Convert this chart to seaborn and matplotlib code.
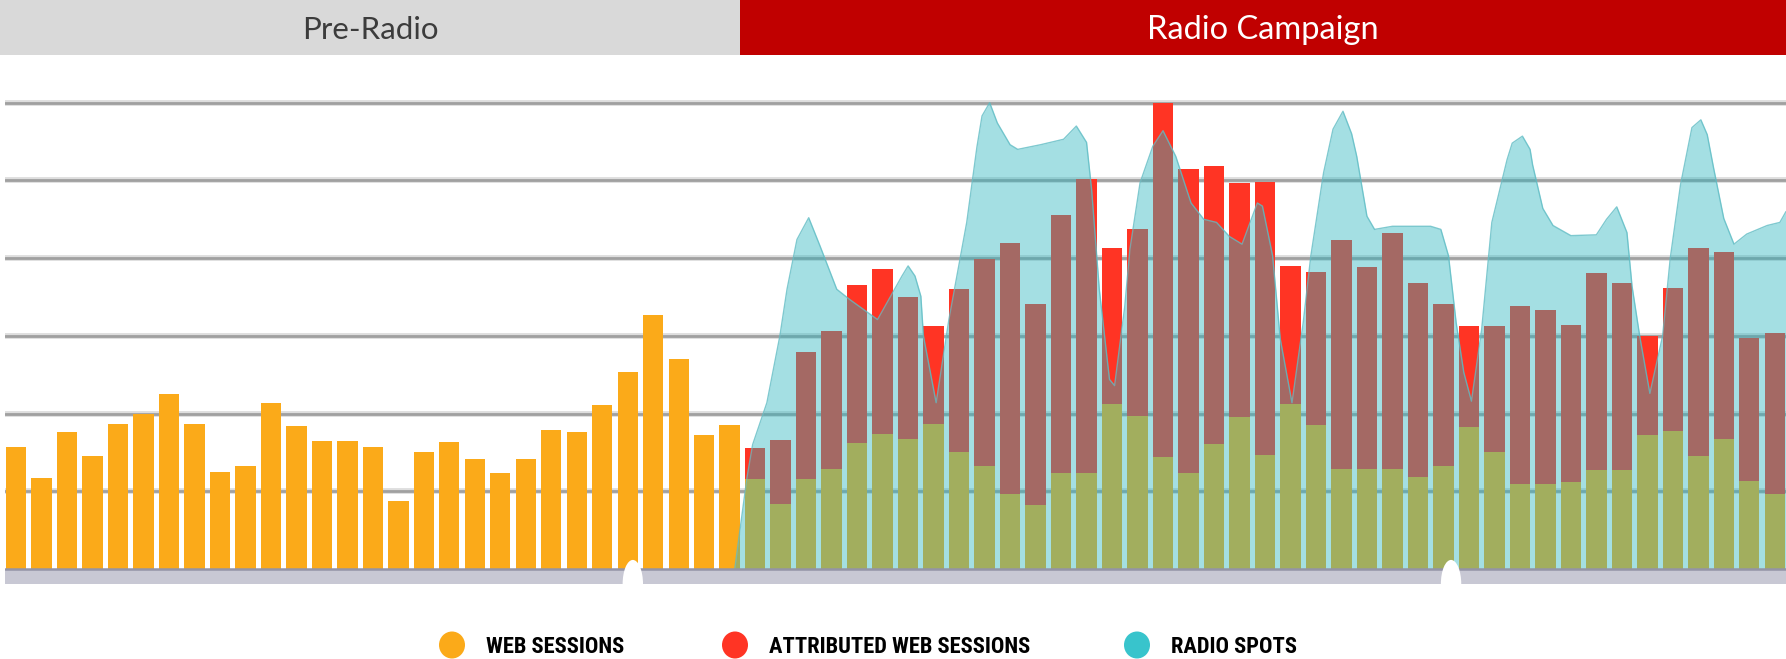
import numpy as np
import pandas as pd
import matplotlib
matplotlib.use("Agg")
import matplotlib.pyplot as plt
import seaborn as sns
from matplotlib.patches import Ellipse
from matplotlib import font_manager

# ---------------- data ----------------
pre_web = [1.57, 1.17, 1.76, 1.46, 1.87, 2.00, 2.25, 1.87, 1.25, 1.32,
           2.14, 1.84, 1.65, 1.65, 1.57, 0.88, 1.50, 1.63, 1.41, 1.23,
           1.41, 1.79, 1.76, 2.11, 2.53, 3.27, 2.70, 1.72, 1.85]

radio_web = [1.16, 0.84, 1.16, 1.29, 1.62, 1.74, 1.67, 1.86, 1.51, 1.33,
             0.97, 0.82, 1.24, 1.24, 2.12, 1.97, 1.44, 1.24, 1.61, 1.95,
             1.47, 2.12, 1.85, 1.29, 1.29, 1.29, 1.18, 1.33, 1.83, 1.51,
             1.10, 1.09, 1.12, 1.28, 1.28, 1.72, 1.78, 1.45, 1.67, 1.13,
             0.96]

radio_total = [1.56, 1.66, 2.79, 3.06, 3.66, 3.86, 3.50, 3.13, 3.60, 3.99,
               4.19, 3.41, 4.56, 5.02, 4.13, 4.38, 6.00, 5.15, 5.19, 4.97,
               4.98, 3.90, 3.82, 4.24, 3.89, 4.33, 3.68, 3.41, 3.13, 3.13,
               3.38, 3.33, 3.14, 3.81, 3.68, 3.00, 3.62, 4.13, 4.08, 2.97,
               3.04]

spots_x = [28.2, 28.68, 28.9, 29.46, 29.97, 30.25, 30.64, 31.1, 31.54, 31.8,
           32.2, 32.7, 33.8, 34.76, 35.0, 35.27, 35.5, 35.6, 36.1, 36.6,
           37.3, 37.7, 37.9, 38.2, 38.5, 39.0, 39.3, 40.2, 41.1, 41.6,
           42.0, 42.2, 42.5, 42.9, 43.1, 43.5, 43.7, 44.1, 44.6, 45.0,
           45.5, 46.1, 46.6, 47.1, 47.6, 48.1, 48.7, 48.9, 49.3, 49.6,
           50.06, 50.5, 50.8, 51.3, 51.67, 52.06, 52.4, 52.6, 53.0, 53.3,
           54.0, 54.7, 55.5, 55.9, 56.2, 56.5, 56.8, 57.1, 57.5, 57.9,
           58.5, 58.7, 59.1, 59.4, 59.5, 59.9, 60.3, 61.0, 62.0, 62.4,
           62.8, 63.2, 63.4, 63.7, 64.1, 64.6, 64.9, 65.3, 65.75, 66.1,
           66.35, 66.6, 67.0, 67.4, 67.9, 68.7, 69.2, 69.44]
spots_y = [0.00, 1.18, 1.60, 2.14, 3.00, 3.60, 4.24, 4.52, 4.16, 3.94,
           3.60, 3.47, 3.21, 3.77, 3.90, 3.77, 3.51, 3.00, 2.14, 3.21,
           4.46, 5.43, 5.83, 6.00, 5.74, 5.46, 5.40, 5.46, 5.53, 5.70,
           5.49, 4.88, 3.60, 2.44, 2.36, 3.38, 4.11, 4.97, 5.44, 5.64,
           5.31, 4.71, 4.50, 4.46, 4.28, 4.18, 4.71, 4.67, 4.03, 2.96,
           2.14, 3.17, 4.03, 5.10, 5.66, 5.89, 5.60, 5.31, 4.54, 4.37,
           4.41, 4.41, 4.41, 4.37, 4.03, 3.17, 2.53, 2.16, 3.08, 4.46,
           5.27, 5.48, 5.57, 5.40, 5.20, 4.64, 4.42, 4.29, 4.30, 4.50,
           4.66, 4.33, 3.64, 3.00, 2.26, 3.00, 4.00, 4.94, 5.68, 5.78,
           5.59, 5.16, 4.51, 4.18, 4.31, 4.42, 4.46, 4.60]

phase_labels = ["Pre-Radio", "Radio Campaign"]
campaign_start = 28.4
legend_labels = ["WEB SESSIONS", "ATTRIBUTED WEB SESSIONS", "RADIO SPOTS"]
grid_values = [1, 2, 3, 4, 5, 6]
slider_handles = [24.2, 56.3]

# ---------------- styling ----------------
ORANGE = "#FBAA19"
RED = "#FF3424"
CYAN = "#38C4CC"
CYAN_FILL = "#28B4BE"
HEADER_GRAY = "#D9D9D9"
HEADER_RED = "#C00000"

days = np.arange(len(pre_web) + len(radio_web))
df = pd.DataFrame({
    "day": days,
    "web": pre_web + radio_web,
    "total": pre_web + radio_total,
})

sns.set_theme(style="white")
plt.rcParams["font.family"] = ["Lato", "DejaVu Sans"]

# choose a condensed bold face for the legend if one is installed
names = {f.name for f in font_manager.fontManager.ttflist}
legend_family = "DejaVu Sans"
for cand in ["Liberation Sans Narrow", "Roboto Condensed", "Open Sans Condensed",
             "DejaVu Sans Condensed", "Roboto"]:
    if cand in names:
        legend_family = cand
        break
condensed_dejavu = any(f.name == "DejaVu Sans" and f.stretch == "condensed"
                       for f in font_manager.fontManager.ttflist)

W, H = 1786, 659
fig = plt.figure(figsize=(W / 100, H / 100), dpi=100)
fig.patch.set_facecolor("white")

XL, XR = -0.43, 69.44
YB, YT = -0.193, 6.55
ax = fig.add_axes([5 / W, (H - 584) / H, 1781 / W, (584 - 60) / H])

for g in grid_values:
    ax.axhline(g, color="#DEDEDE", lw=4.2, zorder=0.4)
    ax.axhline(g, color="#A0A0A0", lw=2.0, zorder=0.5)

sns.barplot(data=df, x="day", y="total", native_scale=True, width=0.8,
            color=RED, saturation=1, errorbar=None, ax=ax, zorder=2,
            linewidth=0)
sns.barplot(data=df, x="day", y="web", native_scale=True, width=0.8,
            color=ORANGE, saturation=1, errorbar=None, ax=ax, zorder=2.1,
            linewidth=0)

ax.fill_between(spots_x, 0, spots_y, color=CYAN_FILL, alpha=0.42, lw=0, zorder=3)
sns.lineplot(x=spots_x, y=spots_y, color="#5FBCC4", lw=1.0, alpha=0.8,
             sort=False, ax=ax, zorder=3.1)

ax.axhspan(YB, 0, color="#C8C8D4", lw=0, zorder=4)
ax.axhline(0, color="#9494A6", lw=1.8, zorder=4.1)
for s in slider_handles:
    ax.add_patch(Ellipse((s, YB), 0.8, 0.62, facecolor="white",
                         edgecolor="none", zorder=5))

ax.set_xlim(XL, XR)
ax.set_ylim(YB, YT)
ax.axis("off")

# ---------------- header ----------------
hax = fig.add_axes([0, (H - 55) / H, 1, 55 / H])
HL = XL - 5 * (XR - XL) / 1781
hax.set_xlim(HL, XR)
hax.set_ylim(0, 1)
hax.axvspan(HL, campaign_start, color=HEADER_GRAY, lw=0)
hax.axvspan(campaign_start, XR, color=HEADER_RED, lw=0)
hax.text((HL + campaign_start) / 2, 0.29, phase_labels[0], ha="center",
         va="baseline", fontsize=22.5, color="#3C3C3C", fontweight="normal")
hax.text((campaign_start + XR) / 2, 0.29, phase_labels[1], ha="center",
         va="baseline", fontsize=23.5, color="white", fontweight="normal")
hax.axis("off")

# ---------------- legend ----------------
lax = fig.add_axes([0, 0, 1, 1], zorder=10)
lax.set_xlim(0, W)
lax.set_ylim(H, 0)
lax.patch.set_visible(False)
lax.axis("off")
marker_x = [452, 735, 1137]
text_x = [486, 769, 1171]
legend_colors = [ORANGE, RED, CYAN]
for mx, tx, lab, col in zip(marker_x, text_x, legend_labels, legend_colors):
    lax.add_patch(Ellipse((mx, 645), 26, 27, facecolor=col, edgecolor="none"))
    kw = dict(ha="left", va="baseline", fontweight="bold", color="black",
              family=[legend_family, "DejaVu Sans"])
    if legend_family == "DejaVu Sans" and condensed_dejavu:
        kw["fontstretch"] = "condensed"
    size = 16.2 if legend_family != "DejaVu Sans" or condensed_dejavu else 13.0
    lax.text(tx, 653, lab, fontsize=size, **kw)

fig.savefig("out.png", dpi=100, facecolor="white")
